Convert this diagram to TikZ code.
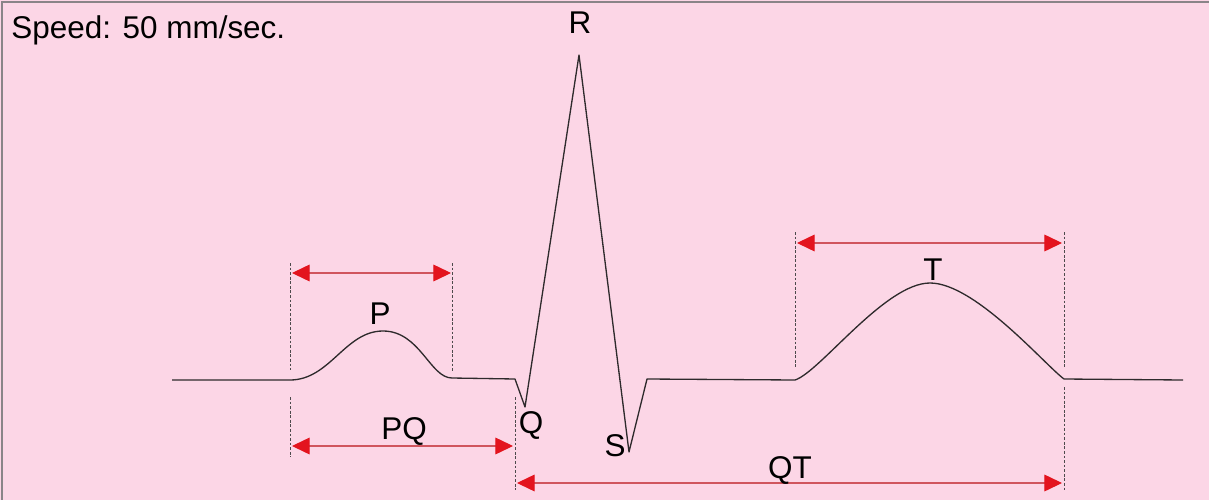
\documentclass[tikz,border=0pt]{standalone}
\usepackage{fontspec}
\setmainfont{Liberation Sans}
\usetikzlibrary{arrows.meta}
\definecolor{paper}{HTML}{FCD6E6}
\definecolor{frameline}{HTML}{8A8488}
\definecolor{trace}{HTML}{2E2A2C}
\definecolor{spanline}{HTML}{D0555E}
\definecolor{spantip}{HTML}{E3141E}
\tikzset{
  lbl/.style={font=\fontsize{17.9}{20}\selectfont, text=black, inner sep=0pt, anchor=base},
  guide/.style={draw=trace!85, line width=0.5pt, dash pattern=on 1.6pt off 1pt},
  span/.style={draw=spanline, line width=0.6pt,
    {Triangle[length=10pt,width=9.5pt,color=spantip]}-{Triangle[length=10pt,width=9.5pt,color=spantip]}},
}

\begin{document}
\begin{tikzpicture}[x=0.02cm, y=-0.02cm]
  %% ECG complex, coordinates in pixels (y downwards)
  \useasboundingbox (0,0) rectangle (1209,500);
  \fill[paper] (0,0) rectangle (1209,500);
  \draw[frameline, line width=0.9pt] (1209,2) -- (2,2) -- (2,500);

  % Trace
  \draw[trace, line width=0.75pt, line join=round]
    (172,380) -- (290,380)
    .. controls (330,380) and (345,331) .. (383,331)
    .. controls (420,331) and (430,378) .. (452,378)
    -- (515,379) -- (525,407) -- (579,55) -- (629,452) -- (647,379)
    -- (795,380)
    .. controls (820,372) and (885,283) .. (930,283)
    .. controls (975,283) and (1045,365) .. (1064,379)
    -- (1183,380);

  % Guide lines
  \foreach \xg/\ya/\yb in {290/263/370, 290/397/457, 452/263/372,
                           515/397/490, 795/232/367, 1064/232/367, 1064/387/490}{
    \draw[guide] (\xg,\ya) -- (\xg,\yb);
  }

  % Interval arrows
  \coordinate (pA) at (292,273);  \coordinate (pB) at (451,273);
  \coordinate (pqA) at (292,446); \coordinate (pqB) at (513,446);
  \coordinate (tA) at (797,243);  \coordinate (tB) at (1062,243);
  \coordinate (qtA) at (517,483); \coordinate (qtB) at (1062,483);
  \draw[span] (pA) -- (pB);
  \draw[span] (pqA) -- (pqB);
  \draw[span] (tA) -- (tB);
  \draw[span] (qtA) -- (qtB);

  % Labels
  \node[lbl, anchor=base west] (speed) at (11,39) {Speed: 50 mm/sec.};
  \node[lbl] (P) at (380,324) {P};
  \node[lbl] (PQ) at (404,439) {PQ};
  \node[lbl] (Q) at (531,433) {Q};
  \node[lbl] (R) at (580,34) {R};
  \node[lbl] (S) at (615,456) {S};
  \node[lbl] (T) at (933,280) {T};
  \node[lbl] (QT) at (790,478) {QT};
\end{tikzpicture}
\end{document}
